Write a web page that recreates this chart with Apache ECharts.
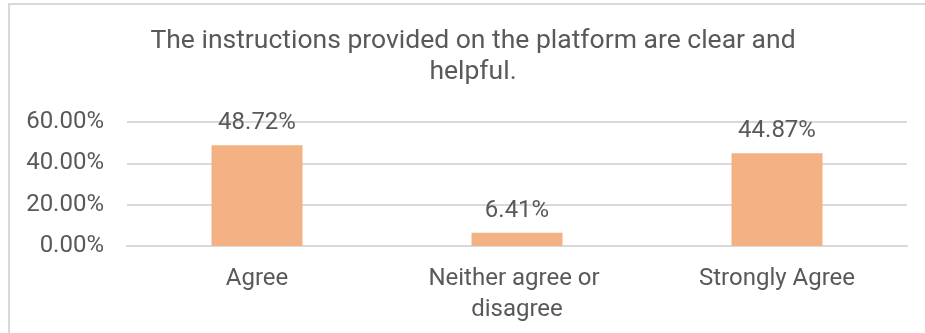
<!DOCTYPE html>
<html>
<head>
<meta charset="utf-8">
<script src="https://cdn.jsdelivr.net/npm/echarts@6/dist/echarts.min.js"></script>
<style>
  html, body { margin: 0; padding: 0; background: #ffffff; }
  #chart { width: 925px; height: 333px; }
</style>
</head>
<body>
<div id="chart"></div>
<script>
// Survey responses (share of respondents, %)
const titleText = 'The instructions provided on the platform are clear and\nhelpful.';
const categories = ['Agree', 'Neither agree or disagree', 'Strongly Agree'];
const shares = [48.72, 6.41, 44.87];
const yTicks = { min: 0, max: 60, interval: 20 };

const textColor = '#595959';
const fontFamily = 'Roboto, "Liberation Sans", sans-serif';

const chart = echarts.init(document.getElementById('chart'), null, { renderer: 'canvas' });
chart.setOption({
  animation: false,
  backgroundColor: '#ffffff',
  textStyle: { fontFamily: fontFamily },
  graphic: [{
    type: 'rect',
    shape: { x: 9, y: 4, width: 940, height: 360 },
    style: { fill: 'none', stroke: '#d9d9d9', lineWidth: 2 },
    silent: true
  }],
  title: {
    text: titleText,
    left: 468,
    textAlign: 'center',
    top: 21,
    padding: 5,
    textStyle: {
      color: textColor,
      fontFamily: fontFamily,
      fontWeight: 'normal',
      fontSize: 26.5,
      lineHeight: 31
    }
  },
  grid: { left: 127, right: 18, top: 122, bottom: 87, containLabel: false },
  xAxis: {
    type: 'category',
    data: categories,
    axisLine: { show: true, lineStyle: { color: '#d9d9d9', width: 2 } },
    axisTick: { show: false },
    axisLabel: {
      color: textColor,
      fontFamily: fontFamily,
      fontSize: 24,
      lineHeight: 31,
      margin: 17,
      width: 215,
      overflow: 'break',
      interval: 0
    }
  },
  yAxis: {
    type: 'value',
    min: yTicks.min,
    max: yTicks.max,
    interval: yTicks.interval,
    axisLine: { show: false },
    axisTick: { show: false },
    splitLine: { lineStyle: { color: '#d9d9d9', width: 2 } },
    axisLabel: {
      color: textColor,
      fontFamily: fontFamily,
      fontSize: 24,
      margin: 23,
      formatter: v => v.toFixed(2) + '%'
    }
  },
  series: [{
    type: 'bar',
    data: shares,
    barWidth: '35%',
    itemStyle: { color: '#F4B183' },
    label: {
      show: true,
      position: 'top',
      distance: 10,
      color: textColor,
      fontFamily: fontFamily,
      fontSize: 24,
      formatter: p => p.value.toFixed(2) + '%'
    }
  }]
});
</script>
</body>
</html>
